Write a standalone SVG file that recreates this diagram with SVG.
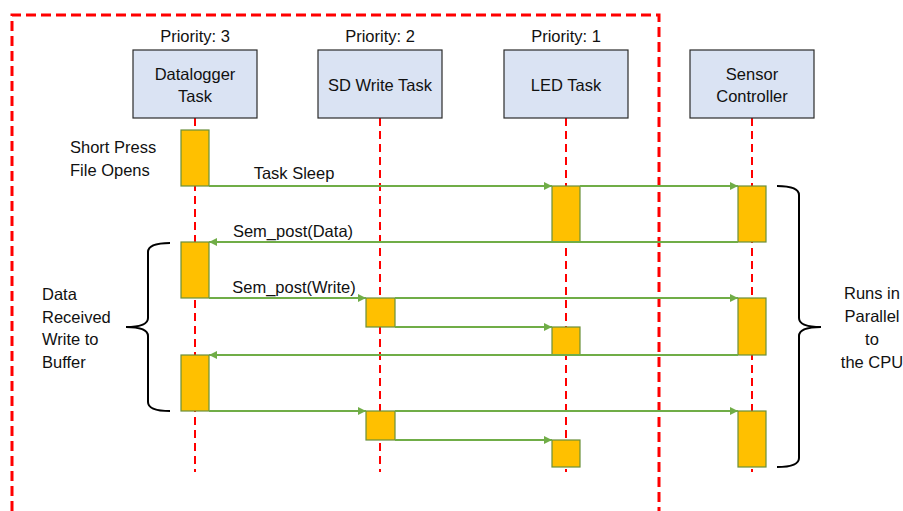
<svg xmlns="http://www.w3.org/2000/svg" width="903" height="511" viewBox="0 0 903 511">
<style>
text{font-family:"Liberation Sans",Arial,sans-serif;font-size:16.5px;fill:#111}
.c{text-anchor:middle}
.hdr{fill:#dae3f3;stroke:#2b2b2b;stroke-width:1.2}
.life{stroke:#ff0000;stroke-width:2;stroke-dasharray:8 5;fill:none}
.act{fill:#ffc000;stroke:#6a8f3a;stroke-width:1.2}
.msg{stroke:#70ad47;stroke-width:2;fill:none}
.arr{marker-end:url(#ah)}
.brace{fill:none;stroke:#000;stroke-width:2}
</style>
<defs>
<marker id="ah" viewBox="0 0 10 10" refX="10" refY="5" markerWidth="4" markerHeight="4" orient="auto" markerUnits="strokeWidth">
<path d="M0,0 L10,5 L0,10 z" fill="#70ad47"/>
</marker>
</defs>
<rect width="903" height="511" fill="#fff"/>
<path id="cpu-border" d="M12,511 V15 H659 V511" fill="none" stroke="#ff0000" stroke-width="3" stroke-dasharray="10 5"/>

<g id="lifelines">
<line class="life" x1="195" y1="118" x2="195" y2="472"/>
<line class="life" x1="380" y1="118" x2="380" y2="472"/>
<line class="life" x1="566" y1="118" x2="566" y2="472"/>
<line class="life" x1="752" y1="118" x2="752" y2="472"/>
</g>

<g id="datalogger">
<text class="c" x="195" y="42">Priority: 3</text>
<rect class="hdr" x="133" y="50" width="124" height="68"/>
<text class="c" x="195" y="80">Datalogger</text>
<text class="c" x="195" y="102">Task</text>
</g>
<g id="sdwrite">
<text class="c" x="380" y="42">Priority: 2</text>
<rect class="hdr" x="318" y="50" width="124" height="68"/>
<text class="c" x="380" y="91">SD Write Task</text>
</g>
<g id="led">
<text class="c" x="566" y="42">Priority: 1</text>
<rect class="hdr" x="504" y="50" width="124" height="68"/>
<text class="c" x="566" y="91">LED Task</text>
</g>
<g id="sensor">
<rect class="hdr" x="690" y="50" width="124" height="68"/>
<text class="c" x="752" y="80">Sensor</text>
<text class="c" x="752" y="102">Controller</text>
</g>

<g id="activations">
<rect class="act" x="181" y="130" width="28" height="56"/>
<rect class="act" x="552" y="186" width="28" height="56"/>
<rect class="act" x="738" y="186" width="28" height="56"/>
<rect class="act" x="181" y="242" width="28" height="56"/>
<rect class="act" x="366" y="298" width="29" height="29"/>
<rect class="act" x="552" y="327" width="28" height="28"/>
<rect class="act" x="738" y="298" width="28" height="57"/>
<rect class="act" x="181" y="355" width="28" height="56"/>
<rect class="act" x="366" y="411" width="29" height="29"/>
<rect class="act" x="552" y="440" width="28" height="27"/>
<rect class="act" x="738" y="411" width="28" height="56"/>
</g>

<g id="connectors">
<line class="msg arr" x1="209" y1="186" x2="552" y2="186"/>
<line class="msg arr" x1="580" y1="186" x2="738" y2="186"/>
<line class="msg arr" x1="738" y1="242" x2="209" y2="242"/>
<line class="msg arr" x1="209" y1="298" x2="366" y2="298"/>
<line class="msg arr" x1="395" y1="298" x2="738" y2="298"/>
<line class="msg arr" x1="395" y1="327" x2="552" y2="327"/>
<line class="msg arr" x1="738" y1="355" x2="209" y2="355"/>
<line class="msg arr" x1="209" y1="411" x2="366" y2="411"/>
<line class="msg arr" x1="395" y1="411" x2="738" y2="411"/>
<line class="msg arr" x1="395" y1="440" x2="552" y2="440"/>
</g>

<g id="labels">
<text x="70" y="153">Short Press</text>
<text x="70" y="176">File Opens</text>
<text class="c" x="294" y="179">Task Sleep</text>
<text class="c" x="293" y="237">Sem_post(Data)</text>
<text class="c" x="294" y="293">Sem_post(Write)</text>
<text x="42" y="300">Data</text>
<text x="42" y="323">Received</text>
<text x="42" y="345">Write to</text>
<text x="42" y="368">Buffer</text>
<text class="c" x="872" y="299">Runs in</text>
<text class="c" x="872" y="322">Parallel</text>
<text class="c" x="872" y="345">to</text>
<text class="c" x="872" y="368">the CPU</text>
</g>

<g id="braces">
<path class="brace" d="M170,243 Q148,243 148,252 V318 Q148,327 126,327 Q148,327 148,336 V402 Q148,411 170,411"/>
<path class="brace" d="M777,186 Q799,186 799,195 V318 Q799,327 821,327 Q799,327 799,336 V458 Q799,467 777,467"/>
</g>
</svg>
